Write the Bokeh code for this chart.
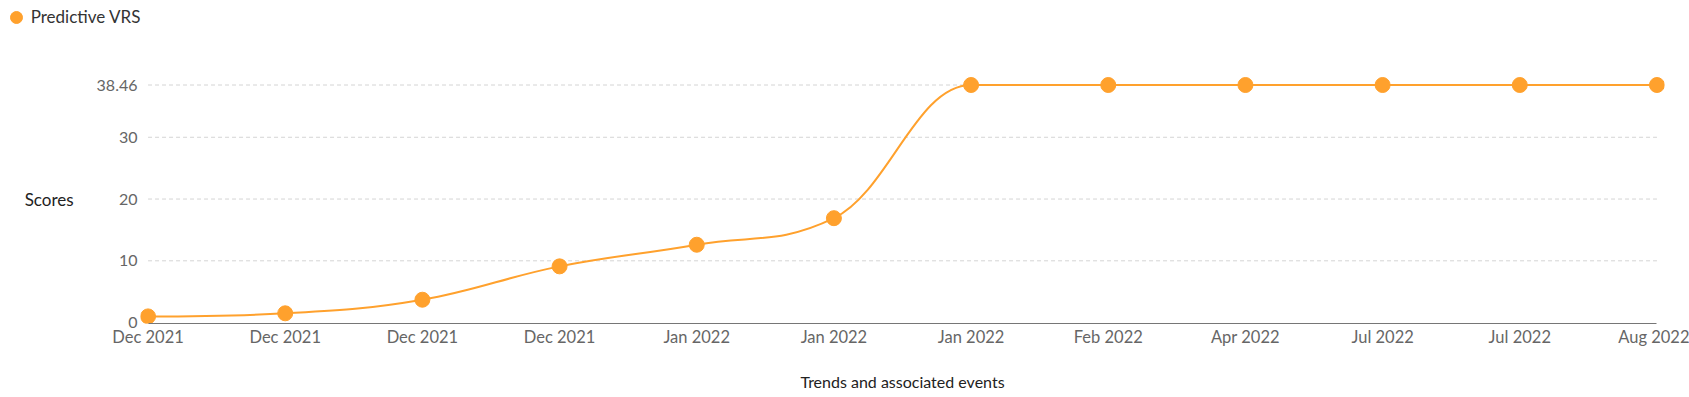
from bokeh.plotting import figure
from bokeh.models import Range1d, FixedTicker, Legend, LegendItem
from bokeh.embed import file_html
from bokeh.resources import INLINE

# ---- data ----
dates = ["Dec 2021", "Dec 2021", "Dec 2021", "Dec 2021", "Jan 2022", "Jan 2022",
         "Jan 2022", "Feb 2022", "Apr 2022", "Jul 2022", "Jul 2022", "Aug 2022"]
scores = [1.0, 1.5, 3.7, 9.1, 12.6, 16.9, 38.46, 38.46, 38.46, 38.46, 38.46, 38.46]
y_ticks = [0, 10, 20, 30, 38.46]
y_tick_labels = ["0", "10", "20", "30", "38.46"]
series_name = "Predictive VRS"
x_title = "Trends and associated events"
y_title = "Scores"

ORANGE = "#FFA12D"
FONT = "Lato"

xs = list(range(len(dates)))


def spline_controls(x, y, smoothing=1.5):
    """Highcharts-style spline control points, computed from the data."""
    n = len(x)
    denom = smoothing + 1
    left = [(x[i], y[i]) for i in range(n)]
    right = [(x[i], y[i]) for i in range(n)]
    for i in range(1, n - 1):
        lx = (smoothing * x[i] + x[i - 1]) / denom
        ly = (smoothing * y[i] + y[i - 1]) / denom
        rx = (smoothing * x[i] + x[i + 1]) / denom
        ry = (smoothing * y[i] + y[i + 1]) / denom
        if rx != lx:
            corr = (ry - ly) * (rx - x[i]) / (rx - lx) + y[i] - ry
            ly += corr
            ry += corr
        last_y, next_y, cy = y[i - 1], y[i + 1], y[i]
        if ly > last_y and ly > cy:
            ly = max(last_y, cy); ry = 2 * cy - ly
        elif ly < last_y and ly < cy:
            ly = min(last_y, cy); ry = 2 * cy - ly
        if ry > next_y and ry > cy:
            ry = max(next_y, cy); ly = 2 * cy - ry
        elif ry < next_y and ry < cy:
            ry = min(next_y, cy); ly = 2 * cy - ry
        left[i] = (lx, ly)
        right[i] = (rx, ry)
    seg = dict(x0=[], y0=[], x1=[], y1=[], cx0=[], cy0=[], cx1=[], cy1=[])
    for i in range(1, n):
        seg["x0"].append(x[i - 1]); seg["y0"].append(y[i - 1])
        seg["x1"].append(x[i]); seg["y1"].append(y[i])
        seg["cx0"].append(right[i - 1][0]); seg["cy0"].append(right[i - 1][1])
        seg["cx1"].append(left[i][0]); seg["cy1"].append(left[i][1])
    return seg


# ---------- top strip holding the legend ----------
top = figure(width=1689, height=30, x_range=Range1d(-3, -2), y_range=Range1d(-3, -2),
             output_backend="svg", toolbar_location=None,
             x_axis_location=None, y_axis_location=None,
             min_border=0)
top.outline_line_color = None
top.xgrid.visible = False
top.ygrid.visible = False
# swatch renderer (its one point lies outside this strip's view; only the legend shows)
legend_marker = top.scatter(x=xs[:1], y=scores[:1], size=12,
                            fill_color=ORANGE, line_color=ORANGE)
legend = Legend(items=[LegendItem(label=series_name, renderers=[legend_marker])],
                location=(0.7, -1.5), glyph_width=30, glyph_height=30,
                label_standoff=-1, padding=0, margin=0, spacing=0,
                border_line_color=None, background_fill_alpha=0,
                label_text_font=FONT, label_text_font_size="17px",
                label_text_color="#333333")
top.add_layout(legend)

# ---------- main chart ----------
p = figure(width=1689, height=367,
           x_range=Range1d(-0.055, len(dates) - 1 + 0.055),
           y_range=Range1d(-0.15, 40),
           output_backend="svg", toolbar_location=None,
           min_border_left=140, min_border_right=25,
           min_border_top=45, min_border_bottom=74)
p.outline_line_color = None
p.background_fill_color = "white"
p.border_fill_color = "white"
p.xgrid.visible = False
p.ygrid.visible = False

grid_vals = [t for t in y_ticks if t != 0]
p.segment(x0=[xs[0]] * len(grid_vals), x1=[xs[-1]] * len(grid_vals),
          y0=grid_vals, y1=grid_vals, line_color="#d4d4d4",
          line_width=1, line_dash="4 3")

seg = spline_controls(xs, scores)
p.bezier(x0="x0", y0="y0", x1="x1", y1="y1", cx0="cx0", cy0="cy0",
         cx1="cx1", cy1="cy1", source=seg, line_color=ORANGE, line_width=2)

sc = p.scatter(xs, scores, size=15, fill_color=ORANGE, line_color=ORANGE)

xa = p.xaxis[0]
xa.ticker = FixedTicker(ticks=xs)
xa.major_label_overrides = {i: d for i, d in enumerate(dates)}
xa.bounds = (xs[0], xs[-1])
xa.axis_line_color = "#767676"
xa.axis_line_width = 1
xa.major_tick_line_color = None
xa.minor_tick_line_color = None
xa.major_tick_out = 0
xa.major_tick_in = 0
xa.major_label_standoff = 3
xa.major_label_text_font = FONT
xa.major_label_text_font_size = "16.5px"
xa.major_label_text_color = "#666666"
xa.axis_label = x_title
xa.axis_label_standoff = 22
xa.axis_label_text_font = FONT
xa.axis_label_text_font_size = "16px"
xa.axis_label_text_font_style = "normal"
xa.axis_label_text_color = "#222222"

ya = p.yaxis[0]
ya.ticker = FixedTicker(ticks=y_ticks)
ya.major_label_overrides = {t: l for t, l in zip(y_ticks, y_tick_labels)}
ya.axis_line_color = None
ya.major_tick_line_color = None
ya.minor_tick_line_color = None
ya.major_tick_out = 0
ya.major_tick_in = 0
ya.major_label_standoff = 3
ya.major_label_text_font = FONT
ya.major_label_text_font_size = "16px"
ya.major_label_text_color = "#666666"
ya.axis_label = y_title
ya.axis_label_orientation = "horizontal"
ya.axis_label_standoff = 20
ya.axis_label_text_font = FONT
ya.axis_label_text_font_size = "17px"
ya.axis_label_text_font_style = "normal"
ya.axis_label_text_color = "#222222"

open("out.html", "w").write(file_html([top, p], INLINE))
